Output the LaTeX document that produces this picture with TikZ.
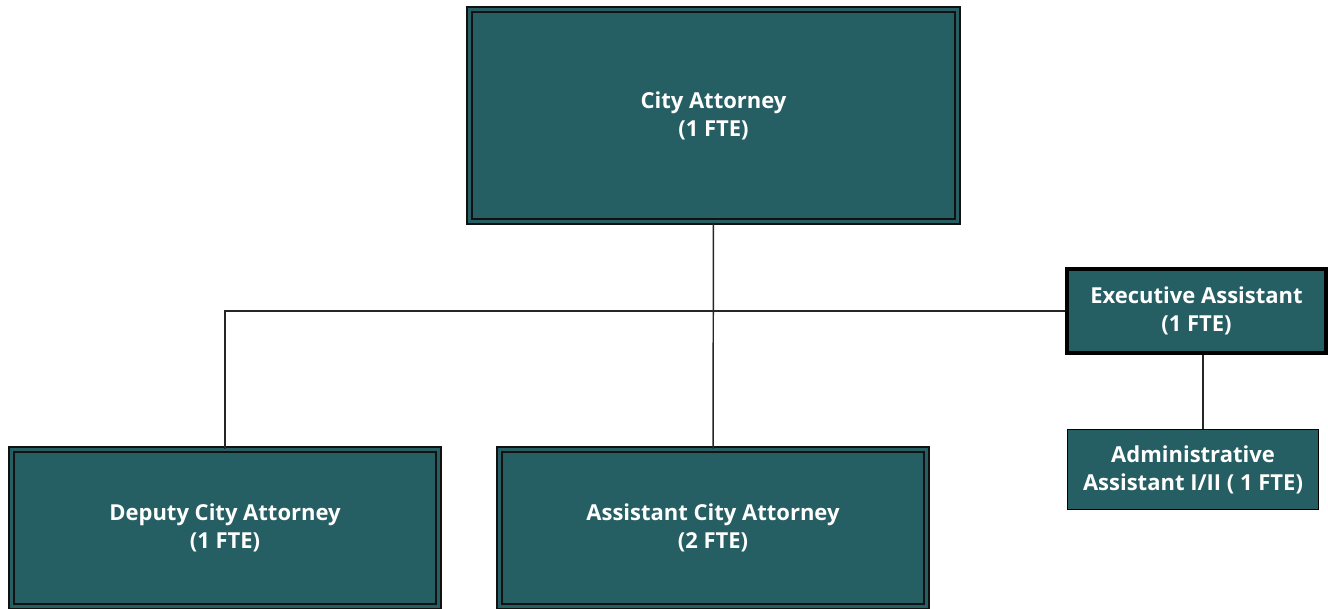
\documentclass[tikz,border=0pt]{standalone}
\usepackage{fontspec}
\setmainfont{Open Sans}
\usepackage{tikz}

\definecolor{boxteal}{HTML}{255E63}
\definecolor{edgeblack}{HTML}{111111}

\begin{document}
\begin{tikzpicture}[x=0.75pt, y=-0.75pt,
    post/.style={fill=boxteal, draw=edgeblack, line width=1.5pt, double=boxteal, double distance=2.2pt,
      text=white, font=\bfseries\fontsize{16.5}{21}\selectfont, align=center, inner sep=0pt},
    aide/.style={fill=boxteal, draw=black, text=white, font=\bfseries\fontsize{16.5}{21}\selectfont,
      align=center, inner sep=0pt},
    link/.style={draw=black!85, line width=1.1pt}]
  \useasboundingbox (0,0) rectangle (1328,608);

  \node[post, minimum width=488*0.75pt, minimum height=212*0.75pt] (city) at (713.5,115.5) {City Attorney\\(1 FTE)};
  \node[post, minimum width=427*0.75pt, minimum height=157*0.75pt] (deputy) at (225,528) {Deputy City Attorney\\(1 FTE)};
  \node[post, minimum width=427*0.75pt, minimum height=157*0.75pt] (asst) at (713,528) {Assistant City Attorney\\(2 FTE)};

  \node[aide, line width=3pt, minimum width=259*0.75pt, minimum height=84*0.75pt] (exec) at (1196.5,311) {Executive Assistant\\(1 FTE)};
  \node[aide, line width=1.2pt, minimum width=251*0.75pt, minimum height=80*0.75pt] (admin) at (1193,469.5) {Administrative\\Assistant I/II ( 1 FTE)};
  \coordinate (drop) at (1203,400);

  \draw[link] (city) -- (asst);
  \draw[link] (exec.west) -| (deputy.north);
  \draw[link] (exec.south -| drop) -- (admin.north -| drop);
\end{tikzpicture}
\end{document}
